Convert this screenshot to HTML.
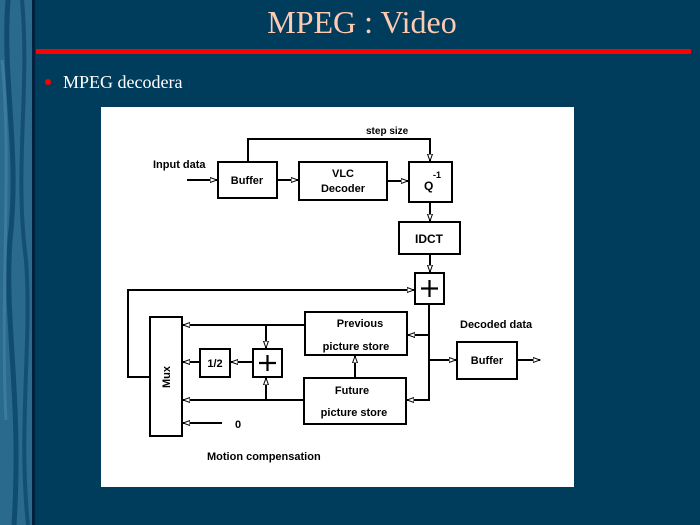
<!DOCTYPE html>
<html><head><meta charset="utf-8"><style>
html,body{margin:0;padding:0}
body{width:700px;height:525px;background:#003c5c;position:relative;overflow:hidden;font-family:"Liberation Serif",serif}
.strip{position:absolute;left:0;top:0;width:32px;height:525px;background:#2a6a8c}
.edge{position:absolute;left:32px;top:0;width:3px;height:525px;background:#00213f}
.title{position:absolute;left:0;width:724px;top:4px;text-align:center;color:#ffcbb0;font-size:32px}
.red{position:absolute;left:36px;top:49px;width:655px;height:5px;background:#ff0000}
.bullet{position:absolute;left:63px;top:72px;color:#fff;font-size:18px}
.dot{position:absolute;left:45px;top:79px;width:6px;height:6px;border-radius:50%;background:#f00}
svg{position:absolute;left:0;top:0}
</style></head><body>
<div class="strip">
<svg width="32" height="525" style="position:absolute;left:0;top:0">
<path d="M8 0 C2 80 20 150 10 240 C4 320 22 400 14 525" stroke="#0f4c70" stroke-width="5" fill="none"/>
<path d="M22 0 C30 90 14 170 26 260 C32 340 18 430 28 525" stroke="#134f72" stroke-width="4" fill="none"/>
<path d="M2 60 C12 160 0 300 6 420" stroke="#3b7c9c" stroke-width="3" fill="none"/>
</svg></div>
<div class="edge"></div>
<div class="title">MPEG : Video</div>
<div class="red"></div>
<div class="dot"></div>
<div class="bullet">MPEG decodera</div>
<svg width="700" height="525" font-family="Liberation Sans, sans-serif" font-weight="bold" font-size="11">
<defs><marker id="a" markerWidth="8" markerHeight="6" refX="7" refY="3" orient="auto" markerUnits="userSpaceOnUse"><path d="M0 0.5 L7 3 L0 5.5 Z" fill="#fff" stroke="#000" stroke-width="1"/></marker></defs>
<rect x="101" y="107" width="473" height="380" fill="#fff"/>
<g stroke="#000" stroke-width="2" fill="none">
<rect x="218" y="162" width="59" height="36"/>
<rect x="299" y="162" width="88" height="38"/>
<rect x="409" y="162" width="43" height="40"/>
<rect x="399" y="222" width="61" height="32"/>
<rect x="415" y="273" width="29" height="31"/>
<rect x="150" y="317" width="32" height="119"/>
<rect x="305" y="312" width="102" height="43"/>
<rect x="304" y="378" width="102" height="46"/>
<rect x="457" y="342" width="60" height="37"/>
<rect x="253" y="349" width="29" height="28"/>
<rect x="200" y="349" width="30" height="28"/>
<path d="M187 180 H217" marker-end="url(#a)"/>
<path d="M277 180 H298" marker-end="url(#a)"/>
<path d="M387 181 H408" marker-end="url(#a)"/>
<path d="M248 162 V139 H430 V161" marker-end="url(#a)"/>
<path d="M430 202 V221" marker-end="url(#a)"/>
<path d="M430 254 V272" marker-end="url(#a)"/>
<path d="M150 377 H128 V290 H414" marker-end="url(#a)"/>
<path d="M429 304 V400 H407" marker-end="url(#a)"/>
<path d="M429 335 H408" marker-end="url(#a)"/>
<path d="M429 360 H456" marker-end="url(#a)"/>
<path d="M517 360 H540" marker-end="url(#a)"/>
<path d="M305 325 H183" marker-end="url(#a)"/>
<path d="M304 400 H183" marker-end="url(#a)"/>
<path d="M266 325 V348" marker-end="url(#a)"/>
<path d="M266 400 V378" marker-end="url(#a)"/>
<path d="M253 362 H231" marker-end="url(#a)"/>
<path d="M200 362 H183" marker-end="url(#a)"/>
<path d="M355 378 V356" marker-end="url(#a)"/>
<path d="M222 423 H183" marker-end="url(#a)"/>
<path d="M259 363 H276 M267.5 355 V371 M421 288.5 H438 M429.5 280 V297" stroke-width="2.2"/>
</g>
<g fill="#000">
<text x="153" y="168" font-size="11">Input data</text>
<text x="366" y="134" font-size="10">step size</text>
<text x="247" y="184" text-anchor="middle">Buffer</text>
<text x="343" y="177" text-anchor="middle">VLC</text>
<text x="343" y="192" text-anchor="middle">Decoder</text>
<text x="424" y="190" font-size="12">Q</text>
<text x="433" y="178" font-size="9">-1</text>
<text x="429" y="243" text-anchor="middle" font-size="12">IDCT</text>
<text x="460" y="328">Decoded data</text>
<text x="487" y="364" text-anchor="middle">Buffer</text>
<text x="360" y="327" text-anchor="middle">Previous</text>
<text x="356" y="350" text-anchor="middle">picture store</text>
<text x="352" y="394" text-anchor="middle">Future</text>
<text x="354" y="416" text-anchor="middle">picture store</text>
<text x="215" y="367" text-anchor="middle">1/2</text>
<text x="235" y="428">0</text>
<text x="170" y="377" text-anchor="middle" transform="rotate(-90 170 377)">Mux</text>
<text x="207" y="460">Motion compensation</text>
</g>
</svg>
</body></html>
